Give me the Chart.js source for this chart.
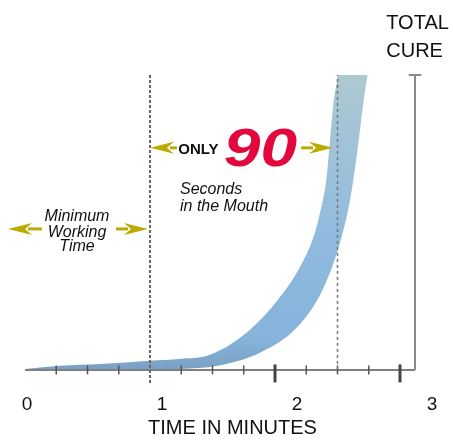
<!DOCTYPE html>
<html>
<head>
<meta charset="utf-8">
<script src="https://cdn.jsdelivr.net/npm/chart.js@4.4.1/dist/chart.umd.min.js"></script>
<style>
  html, body { margin: 0; padding: 0; background: #fff; }
  #wrap { width: 453px; height: 440px; }
</style>
</head>
<body>
<div id="wrap"><canvas id="grafico"></canvas></div>
<script>
// banda de curado: minutos / % de curado
const upperX = [0, 0.28, 0.6, 1.0, 1.24, 1.48, 1.8, 2.04, 2.2, 2.3, 2.36, 2.41, 2.44, 2.47, 2.5, 2.52, 2.9];
const upperY = [0.3, 1.4, 2.0, 3.1, 3.7, 5.1, 13.6, 24.7, 34.9, 44.1, 53.2, 64.4, 78, 91.5, 100, 112, 260];
const lowerX = [0, 0.6, 1.0, 1.24, 1.54, 1.88, 2.18, 2.38, 2.52, 2.6, 2.66, 2.71, 2.74, 2.77, 2.9];
const lowerY = [-0.3, -0.2, 0, 0.3, 1.4, 5.8, 14.6, 27.1, 43.1, 57.6, 74.6, 91.5, 100, 109, 150];

// marcas del eje
const minorTicks = [0.25, 0.5, 0.75, 1.25, 1.5, 1.75, 2.25, 2.5, 2.75];
const majorTicks = [2, 3];
const minuteLabels = [0, 1, 2, 3];

// lineas de referencia
const workingTime = 1;
const mouthTime = 2.5;
const totalCure = 3.12;

const pts = (xs, ys) => xs.map((x, i) => ({ x: x, y: ys[i] }));
const FONT = "'Liberation Sans', Arial, sans-serif";

const notas = {
  id: 'notas',
  afterDatasetsDraw(chart) {
    const { ctx, scales } = chart;
    const px = v => scales.x.getPixelForValue(v);
    const py = v => scales.y.getPixelForValue(v);

    function flecha(x1, x2, y) {
      const dir = x2 > x1 ? 1 : -1;
      const back = x2 - 24 * dir;
      ctx.save();
      ctx.strokeStyle = '#bcaa00';
      ctx.fillStyle = '#bcaa00';
      ctx.lineWidth = 3;
      ctx.beginPath();
      ctx.moveTo(x1, y);
      ctx.lineTo(back + 4 * dir, y);
      ctx.stroke();
      ctx.beginPath();
      ctx.moveTo(x2, y);
      ctx.lineTo(back, y - 6);
      ctx.lineTo(back + 7 * dir, y);
      ctx.lineTo(back, y + 6);
      ctx.closePath();
      ctx.fill();
      ctx.restore();
    }

    ctx.save();
    // Minimum Working Time
    const yW = py(47.8);
    flecha(px(0.136), px(-0.136), yW);
    flecha(px(0.728), px(0.984), yW);
    ctx.fillStyle = '#111';
    ctx.font = 'italic 16px ' + FONT;
    ctx.textAlign = 'center';
    ctx.textBaseline = 'alphabetic';
    const cx = px(0.416);
    ctx.fillText('Minimum', cx, yW - 8);
    ctx.fillText('Working', cx, yW + 8);
    ctx.fillText('Time', cx, yW + 22);

    // ONLY 90
    const yO = py(75.3);
    flecha(px(1.216), px(1.0), yO);
    flecha(px(2.21), px(2.464), yO);
    ctx.textAlign = 'left';
    ctx.font = 'bold 15px ' + FONT;
    ctx.fillText('ONLY', px(1.226), yO + 6);
    ctx.save();
    ctx.translate(px(1.59), yO + 18);
    ctx.scale(1.22, 1);
    ctx.fillStyle = '#e2073c';
    ctx.font = 'italic bold 54px ' + FONT;
    ctx.fillText('90', 0, 0);
    ctx.restore();

    ctx.font = 'italic 16px ' + FONT;
    ctx.fillText('Seconds', px(1.24), yO + 46);
    ctx.fillText('in the Mouth', px(1.24), yO + 63);

    // TOTAL CURE
    ctx.font = '20px ' + FONT;
    ctx.textBaseline = 'middle';
    ctx.fillText('TOTAL', px(2.89), py(117.3));
    ctx.fillText('CURE', px(2.89), py(108));
    ctx.restore();
  }
};

const ctx = document.getElementById('grafico').getContext('2d');
new Chart(ctx, {
  type: 'line',
  data: {
    datasets: [
      {
        label: 'working',
        data: [{ x: workingTime, y: -4.4 }, { x: workingTime, y: 100 }],
        borderColor: '#666',
        borderWidth: 2,
        borderDash: [3, 2],
        pointRadius: 0,
        clip: false,
        order: 0
      },
      {
        label: 'mouth',
        data: [{ x: mouthTime, y: 0 }, { x: mouthTime, y: 100 }],
        borderColor: '#777',
        borderWidth: 1.5,
        borderDash: [3, 3],
        pointRadius: 0,
        clip: false,
        order: 0
      },
      {
        label: 'cure',
        data: [{ x: totalCure, y: 0 }, { x: totalCure, y: 100 }],
        borderColor: '#8a8a8a',
        borderWidth: 2,
        pointRadius: 0,
        clip: false,
        order: 0
      },
      {
        label: 'cureCap',
        data: [{ x: totalCure - 0.05, y: 100 }, { x: totalCure + 0.05, y: 100 }],
        borderColor: '#8a8a8a',
        borderWidth: 2,
        pointRadius: 0,
        clip: false,
        order: 0
      },
      {
        label: 'minor',
        data: minorTicks.map(v => ({ x: v, y: 0 })),
        showLine: false,
        pointStyle: 'line',
        rotation: 90,
        pointRadius: 4.5,
        borderColor: '#555',
        borderWidth: 1.5,
        clip: false,
        order: 0
      },
      {
        label: 'major',
        data: majorTicks.map(v => ({ x: v, y: -1.2 })),
        showLine: false,
        pointStyle: 'line',
        rotation: 90,
        pointRadius: 9,
        borderColor: '#444',
        borderWidth: 3,
        clip: false,
        order: 0
      },
      {
        label: 'axis',
        data: [{ x: 0, y: 0 }, { x: totalCure, y: 0 }],
        borderColor: '#808080',
        borderWidth: 2,
        pointRadius: 0,
        clip: false,
        order: 1
      },
      {
        label: 'upper',
        data: pts(upperX, upperY),
        borderWidth: 0,
        borderColor: 'rgba(0,0,0,0)',
        pointRadius: 0,
        cubicInterpolationMode: 'monotone',
        order: 5
      },
      {
        label: 'lower',
        data: pts(lowerX, lowerY),
        borderWidth: 0,
        borderColor: 'rgba(0,0,0,0)',
        pointRadius: 0,
        cubicInterpolationMode: 'monotone',
        fill: '-1',
        backgroundColor: (c) => {
          const area = c.chart.chartArea;
          if (!area) return '#8fb7d9';
          const y = c.chart.scales.y;
          const g = c.chart.ctx.createLinearGradient(0, y.getPixelForValue(100), 0, y.getPixelForValue(0));
          g.addColorStop(0, '#adc9d2');
          g.addColorStop(0.5, '#92bcde');
          g.addColorStop(0.9, '#85b3da');
          g.addColorStop(1, '#7aa0c4');
          return g;
        },
        order: 5
      }
    ]
  },
  options: {
    responsive: true,
    maintainAspectRatio: false,
    animation: false,
    layout: { padding: { left: 25, right: 13, top: 75, bottom: 0 } },
    plugins: {
      legend: { display: false },
      tooltip: { enabled: false }
    },
    scales: {
      x: {
        type: 'linear',
        min: 0,
        max: 3.32,
        display: false
      },
      y: {
        type: 'linear',
        min: -7.9,
        max: 100,
        display: false
      },
      xl: {
        type: 'linear',
        axis: 'x',
        position: 'bottom',
        min: -0.0148,
        max: 3.059,
        afterBuildTicks: s => { s.ticks = minuteLabels.map(v => ({ value: v })); },
        grid: { display: false, drawTicks: false },
        border: { display: false },
        ticks: {
          padding: 0,
          autoSkip: false,
          maxRotation: 0,
          color: '#111',
          font: { family: FONT, size: 19 }
        },
        title: {
          display: true,
          text: 'TIME IN MINUTES',
          color: '#111',
          padding: { top: 0, bottom: 0 },
          font: { family: FONT, size: 20 }
        }
      }
    }
  },
  plugins: [notas]
});
</script>
</body>
</html>
